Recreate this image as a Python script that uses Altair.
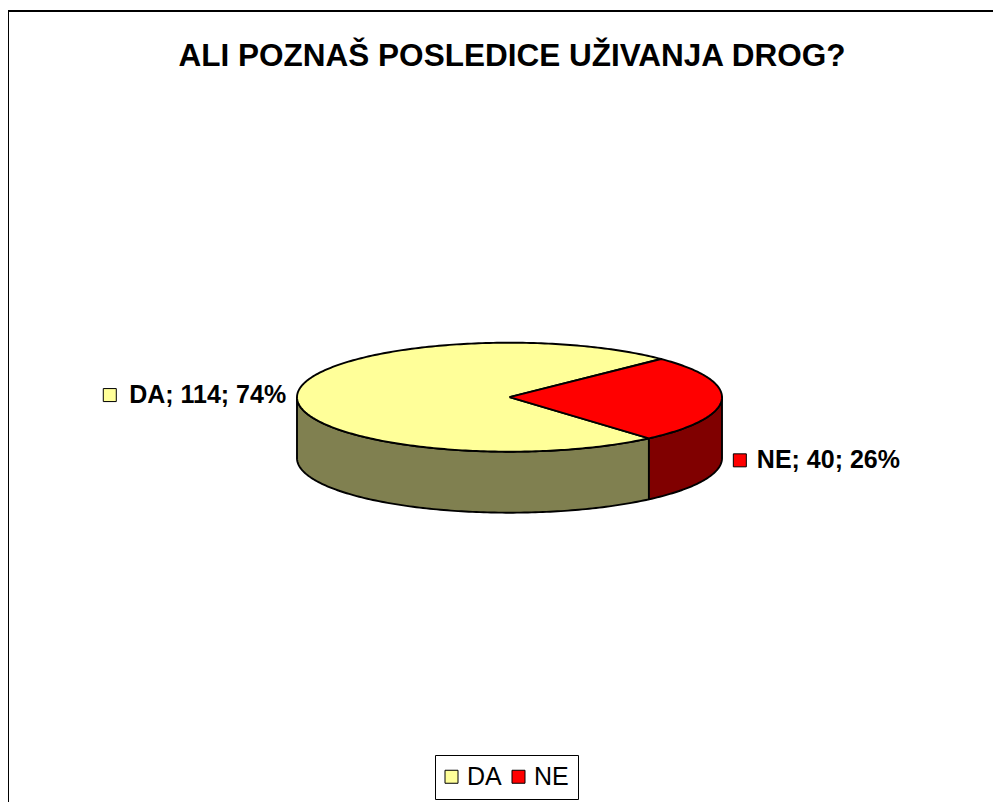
import math
import numpy as np
import pandas as pd
import altair as alt

# ---------------- data ----------------
title_text = "ALI POZNAŠ POSLEDICE UŽIVANJA DROG?"
categories = ["DA", "NE"]
values = [114, 40]

# ---------------- styles ----------------
top_colors = ["#FFFF99", "#FF0000"]
side_colors = ["#808050", "#800000"]
FONT = "Liberation Sans"

# ---------------- layout (page pixel units) ----------------
W, H = 985, 791          # plot area size
OX, OY = 8, 11           # page position of the plot origin
CX, CY = 509.5, 397.2    # pie centre
RX, RY = 212.5, 54.5     # ellipse radii of the top face
DEPTH = 61               # pie thickness
FIRST_ANGLE = 139        # first slice angle (clockwise from 12 o'clock)
LABEL_GAP = 11
LABEL_FONT = 25

# approximate Arial-bold advance widths (em) used to place the label key square
CHAR_W = {"A": .722, "D": .722, "N": .722, "E": .667, ";": .333, " ": .278, "%": .889}


def text_width(s, size):
    return sum(CHAR_W.get(ch, .556) for ch in s) * size


def ell(t):
    r = math.radians(t)
    return CX + RX * math.cos(r), CY - RY * math.sin(r)


total = sum(values)
top_rows, side_rows, label_rows = [], [], []
c = FIRST_ANGLE
for i, (cat, v) in enumerate(zip(categories, values)):
    span = v / total * 360
    t0 = 90 - c
    t1 = 90 - (c + span)
    c += span

    # top face of the slice
    n = int(math.ceil(span)) + 1
    pts = [(CX, CY)] + [ell(t) for t in np.linspace(t0, t1, n)] + [(CX, CY)]
    for k, (x, y) in enumerate(pts):
        top_rows.append(dict(poly=f"top-{cat}", cat=cat, col=top_colors[i], x=x, y=y, o=k))

    # visible (front) side wall
    a, b = t1, t0
    for kk in range(-3, 3):
        lo = max(a, 180 + 360 * kk)
        hi = min(b, 360 + 360 * kk)
        if hi > lo:
            m = int(math.ceil(hi - lo)) + 1
            upper = [ell(t) for t in np.linspace(lo, hi, m)]
            lower = [(x, y + DEPTH) for x, y in reversed(upper)]
            poly = upper + lower + [upper[0]]
            for k, (x, y) in enumerate(poly):
                side_rows.append(dict(poly=f"side-{cat}-{kk}", cat=cat, col=side_colors[i], x=x, y=y, o=k))

    # data label
    pct = round(v / total * 100)
    txt = f"{cat}; {v}; {pct}%"
    tm = (t0 + t1) / 2
    cm, sm = math.cos(math.radians(tm)), math.sin(math.radians(tm))
    ax = CX + (RX + LABEL_GAP) * cm
    ay = CY - RY * sm + (DEPTH if sm < 0 else 0)
    if cm < 0:
        tx, side = ax, "left"
        sqx = ax - text_width(txt, LABEL_FONT) - 18
    else:
        sqx = ax + 7
        tx, side = ax + 24, "right"
    label_rows.append(dict(cat=cat, label=txt, tx=tx, ty=ay, sqx=sqx, side=side))

top_df = pd.DataFrame(top_rows)
side_df = pd.DataFrame(side_rows)
lab_df = pd.DataFrame(label_rows)

xs = alt.Scale(domain=[OX, OX + W], nice=False, zero=False)
ys = alt.Scale(domain=[OY, OY + H], nice=False, zero=False, reverse=True)


def polys(df):
    return alt.Chart(df).mark_line(stroke="black", strokeWidth=1.9, strokeJoin="round").encode(
        x=alt.X("x:Q", scale=xs, axis=None),
        y=alt.Y("y:Q", scale=ys, axis=None),
        detail="poly:N",
        order="o:Q",
        fill=alt.Fill("col:N", scale=None),
    )


sides = polys(side_df)
tops = polys(top_df)


def label_text(side, align):
    return alt.Chart(lab_df).transform_filter(
        alt.datum.side == side
    ).mark_text(
        font=FONT, fontSize=LABEL_FONT, fontWeight="bold", baseline="middle", color="black", align=align
    ).encode(
        x=alt.X("tx:Q", scale=xs, axis=None),
        y=alt.Y("ty:Q", scale=ys, axis=None),
        text="label:N",
    )


label_keys = alt.Chart(lab_df).mark_square(size=169, stroke="black", strokeWidth=1, opacity=1, filled=True).encode(
    x=alt.X("sqx:Q", scale=xs, axis=None),
    y=alt.Y("ty:Q", scale=ys, axis=None),
    fill=alt.Fill(
        "cat:N",
        scale=alt.Scale(domain=categories, range=top_colors),
        legend=alt.Legend(
            orient="none", legendX=435 - OX, legendY=755 - OY, direction="horizontal",
            title=None, symbolType="square", symbolSize=169, symbolStrokeColor="black",
            symbolStrokeWidth=1, symbolOffset=-5, labelFont=FONT, labelFontSize=LABEL_FONT,
            labelColor="black", strokeColor="black", padding=9, columnPadding=8, labelOffset=3,
        ),
    ),
)

title_df = pd.DataFrame({"t": [title_text], "x": [512], "y": [56.5]})
title = alt.Chart(title_df).mark_text(
    font=FONT, fontSize=31.5, fontWeight="bold", baseline="middle", align="center", color="black"
).encode(
    x=alt.X("x:Q", scale=xs, axis=None),
    y=alt.Y("y:Q", scale=ys, axis=None),
    text="t:N",
)

frame_df = pd.DataFrame({"a": [0]})
frame_left = alt.Chart(frame_df).mark_rule(color="black", strokeWidth=2).encode(
    x=alt.value(0), y=alt.value(0), y2=alt.value(H + 5)
)
frame_top = alt.Chart(frame_df).mark_rule(color="black", strokeWidth=2).encode(
    y=alt.value(0), x=alt.value(-1), x2=alt.value(W + 5)
)

chart = alt.layer(
    sides, tops, label_text("left", "right"), label_text("right", "left"), label_keys, title,
    frame_left, frame_top,
).resolve_scale(
    fill="independent"
).properties(
    width=W, height=H, autosize="none",
    padding={"left": 0, "top": 3, "right": 0, "bottom": 0},
    background="white",
).configure_view(stroke=None)

chart.save("out.html", embed_options={"renderer": "svg", "actions": False})
